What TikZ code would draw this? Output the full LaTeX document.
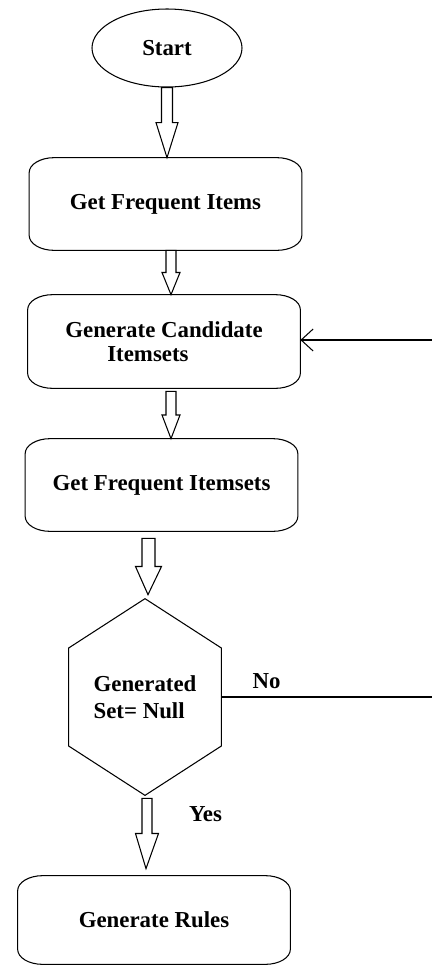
\documentclass[tikz,border=0pt]{standalone}
\usepackage{fontspec}
\setmainfont{Liberation Serif}
\usetikzlibrary{arrows.meta,calc,shapes.geometric}

\tikzset{
  flow/.style={line width=0.6pt},
  every node/.style={font=\fontsize{13}{13.6}\selectfont\bfseries},
  startnode/.style={ellipse, draw, flow, minimum width=3cm, minimum height=1.56cm, inner sep=0pt},
  term/.style={minimum width=5.44cm, minimum height=1.84cm, inner sep=0pt},
  decision/.style={minimum width=3.04cm, minimum height=3.92cm, inner sep=0pt, align=left,
    font=\fontsize{13}{15.3}\selectfont\bfseries},
}

% outline of a box with flat elliptic corners
\newcommand{\termline}[1]{%
  \draw[flow] ([xshift=0.5cm]#1.north west) -- ([xshift=-0.5cm]#1.north east)
    arc[start angle=90, end angle=0, x radius=0.5cm, y radius=0.3cm]
    -- ([yshift=0.3cm]#1.south east)
    arc[start angle=0, end angle=-90, x radius=0.5cm, y radius=0.3cm]
    -- ([xshift=0.5cm]#1.south west)
    arc[start angle=270, end angle=180, x radius=0.5cm, y radius=0.3cm]
    -- ([yshift=-0.3cm]#1.north west)
    arc[start angle=180, end angle=90, x radius=0.5cm, y radius=0.3cm]
    -- cycle;}

% hollow block arrow: from, to, shaft half width, head half width
\newcommand{\blockarrow}[4]{%
  \draw[flow] let \p1=(#1), \p2=(#2) in
    (\x1-#3,\y1) -- (\x1-#3,{(\y1+\y2)/2}) -- (\x1-#4,{(\y1+\y2)/2}) -- (\x2,\y2)
    -- (\x1+#4,{(\y1+\y2)/2}) -- (\x1+#3,{(\y1+\y2)/2}) -- (\x1+#3,\y1) -- cycle;}

\begin{document}
\begin{tikzpicture}
  \useasboundingbox (0,0) rectangle (8.64,-19.3);

  \node[startnode] (start) at (3.34,-0.96) {Start};
  \node[term] (items) at (3.31,-4.08) {Get Frequent Items};
  \node[term, minimum height=1.86cm, align=left] (cand) at (3.28,-6.83)
    {Generate Candidate\\\hspace*{0.84cm}Itemsets};
  \node[term] (freq) at (3.23,-9.70) {Get Frequent Itemsets};
  \node[decision] (check) at (2.90,-13.94) {Generated\\Set= Null};
  \node[term, minimum height=1.76cm] (rules) at (3.08,-18.40) {Generate Rules};

  \termline{items}
  \termline{cand}
  \termline{freq}
  \termline{rules}

  % hexagon round the test
  \draw[flow] (check.north) -- ([yshift=0.98cm]check.east) -- ([yshift=-0.98cm]check.east)
    -- (check.south) -- ([yshift=-0.98cm]check.west) -- ([yshift=0.98cm]check.west) -- cycle;

  \blockarrow{start.south}{[xshift=0.03cm]items.north}{0.11cm}{0.22cm}
  \blockarrow{[xshift=0.11cm]items.south}{[xshift=0.14cm]cand.north}{0.1cm}{0.18cm}
  \blockarrow{[xshift=0.14cm,yshift=-0.06cm]cand.south}{[xshift=0.19cm]freq.north}{0.1cm}{0.18cm}
  \blockarrow{[xshift=-0.26cm,yshift=-0.14cm]freq.south}{[xshift=0.06cm,yshift=0.08cm]check.north}{0.13cm}{0.26cm}
  \blockarrow{[xshift=0.04cm,yshift=-0.06cm]check.south}{[xshift=-0.16cm,yshift=0.14cm]rules.north}{0.1cm}{0.23cm}

  % loop back when the set is not empty
  \coordinate (noend) at (8.64,-13.94);
  \coordinate (backin) at (8.64,-6.80);
  \draw[flow] (check.east) -- (noend);
  \draw[flow, -{Straight Barb[length=0.24cm, width=0.44cm]}] (backin) -- (cand.east |- backin);

  \node (no) at (5.33,-13.62) {No};
  \node (yes) at (4.11,-16.28) {Yes};
\end{tikzpicture}
\end{document}
